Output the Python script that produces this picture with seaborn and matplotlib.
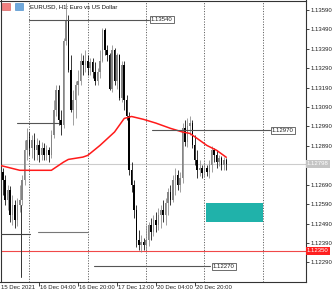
import matplotlib
matplotlib.use("Agg")
import matplotlib.pyplot as plt
import matplotlib.transforms as mtransforms
import seaborn as sns
import numpy as np

# ---------------- data ----------------
bar_start = -12  # bar index of the first candle (index 0 = 16 Dec 00:00)
opens = [1.12687, 1.12754, 1.12712, 1.12609, 1.12661, 1.12532, 1.12584, 1.12507, 1.12584, 1.12609,
         1.12712, 1.12867, 1.12918, 1.12877, 1.12918, 1.12867, 1.12892, 1.12841, 1.12877, 1.12841,
         1.12867, 1.12841, 1.12944, 1.13072, 1.13175, 1.13021, 1.12995, 1.13432, 1.13535, 1.13278,
         1.13072, 1.13124, 1.13201, 1.13226, 1.13329, 1.13304, 1.13329, 1.13288, 1.13319, 1.13268,
         1.13226, 1.13268, 1.13329, 1.13484, 1.13381, 1.13355, 1.13185, 1.13381, 1.13226, 1.13355,
         1.13134, 1.13304, 1.13124, 1.13046, 1.12764, 1.12687, 1.12558, 1.12404, 1.12378, 1.12394,
         1.12378, 1.12404, 1.12481, 1.12445, 1.12507, 1.12481, 1.12532, 1.12558, 1.12532, 1.12594,
         1.12651, 1.12609, 1.12712, 1.12738, 1.12687, 1.12723, 1.12980, 1.12908, 1.12990, 1.13010,
         1.12892, 1.12815, 1.12764, 1.12774, 1.12748, 1.12774, 1.12754, 1.12789, 1.12867, 1.12841,
         1.12805, 1.12826, 1.12789, 1.12815]
highs = [1.12789, 1.12774, 1.12738, 1.12687, 1.12682, 1.12635, 1.12609, 1.12620, 1.12687, 1.12738,
         1.12918, 1.12980, 1.12959, 1.12944, 1.12954, 1.12928, 1.12918, 1.12908, 1.12903, 1.12892,
         1.12882, 1.12969, 1.13124, 1.13201, 1.13201, 1.13072, 1.13443, 1.13623, 1.13561, 1.13355,
         1.13175, 1.13226, 1.13278, 1.13370, 1.13355, 1.13381, 1.13355, 1.13340, 1.13340, 1.13319,
         1.13288, 1.13381, 1.13494, 1.13494, 1.13407, 1.13370, 1.13407, 1.13396, 1.13370, 1.13365,
         1.13329, 1.13329, 1.13149, 1.13062, 1.12805, 1.12712, 1.12584, 1.12455, 1.12429, 1.12414,
         1.12481, 1.12497, 1.12517, 1.12532, 1.12548, 1.12569, 1.12584, 1.12609, 1.12620, 1.12671,
         1.12687, 1.12738, 1.12774, 1.12764, 1.12754, 1.13010, 1.13021, 1.13031, 1.13041, 1.13021,
         1.12944, 1.12867, 1.12815, 1.12789, 1.12805, 1.12789, 1.12815, 1.12887, 1.12877, 1.12867,
         1.12841, 1.12836, 1.12831, 1.12826]
lows = [1.12661, 1.12635, 1.12584, 1.12558, 1.12497, 1.12481, 1.12466, 1.12476, 1.12548, 1.12584,
        1.12687, 1.12815, 1.12841, 1.12826, 1.12815, 1.12815, 1.12805, 1.12815, 1.12815, 1.12815,
        1.12805, 1.12826, 1.12928, 1.13046, 1.12995, 1.12944, 1.12980, 1.13407, 1.13268, 1.13062,
        1.12995, 1.13031, 1.13149, 1.13201, 1.13252, 1.13268, 1.13252, 1.13252, 1.13237, 1.13201,
        1.13201, 1.13237, 1.13319, 1.13355, 1.13329, 1.13175, 1.13165, 1.13201, 1.13185, 1.13124,
        1.13113, 1.13072, 1.13021, 1.12738, 1.12651, 1.12517, 1.12368, 1.12352, 1.12342, 1.12352,
        1.12352, 1.12373, 1.12404, 1.12424, 1.12445, 1.12455, 1.12466, 1.12497, 1.12481, 1.12532,
        1.12584, 1.12599, 1.12635, 1.12661, 1.12651, 1.12697, 1.12887, 1.12882, 1.12944, 1.12877,
        1.12789, 1.12723, 1.12733, 1.12723, 1.12728, 1.12733, 1.12723, 1.12754, 1.12805, 1.12774,
        1.12784, 1.12764, 1.12764, 1.12764]
closes = [1.12754, 1.12712, 1.12609, 1.12661, 1.12532, 1.12584, 1.12507, 1.12584, 1.12609, 1.12712,
          1.12867, 1.12918, 1.12877, 1.12918, 1.12867, 1.12892, 1.12841, 1.12877, 1.12841, 1.12867,
          1.12841, 1.12944, 1.13072, 1.13175, 1.13021, 1.12995, 1.13432, 1.13535, 1.13278, 1.13072,
          1.13124, 1.13201, 1.13226, 1.13329, 1.13304, 1.13329, 1.13288, 1.13319, 1.13268, 1.13226,
          1.13268, 1.13329, 1.13484, 1.13381, 1.13355, 1.13185, 1.13381, 1.13226, 1.13355, 1.13134,
          1.13304, 1.13124, 1.13046, 1.12764, 1.12687, 1.12558, 1.12404, 1.12378, 1.12394, 1.12378,
          1.12404, 1.12481, 1.12445, 1.12507, 1.12481, 1.12532, 1.12558, 1.12532, 1.12594, 1.12651,
          1.12609, 1.12712, 1.12738, 1.12687, 1.12723, 1.12980, 1.12908, 1.12990, 1.13010, 1.12892,
          1.12815, 1.12764, 1.12774, 1.12748, 1.12774, 1.12754, 1.12789, 1.12867, 1.12841, 1.12805,
          1.12826, 1.12789, 1.12815, 1.12798]

ma_bars = [-12, -4, 9, 14, 16, 22, 24, 29, 35, 39, 42, 47, 52, 58, 63, 66, 69, 73, 77, 81]
ma_values = [1.12789, 1.12764, 1.12764, 1.12806, 1.12820, 1.12832, 1.12841, 1.12892, 1.12961, 1.13031,
             1.13041, 1.13026, 1.13007, 1.12980, 1.12961, 1.12954, 1.12928, 1.12892, 1.12867, 1.12831]

ytick_values = [1.12290, 1.12390, 1.12490, 1.12590, 1.12690, 1.12790, 1.12890, 1.12990,
                1.13090, 1.13190, 1.13290, 1.13390, 1.13490, 1.13590]
xtick_bars = [-12, 4, 20, 36, 52, 68]
xtick_labels = ["15 Dec 2021", "16 Dec 04:00", "16 Dec 20:00", "17 Dec 12:00", "20 Dec 04:00", "20 Dec 20:00"]
day_separators = [0, 24, 48, 72, 96]

bid_price = 1.12798
alert_price = 1.12350
# labelled horizontal trend lines: (price, start bar, end bar)
labelled_lines = [(1.13540, 0, 49), (1.12970, 50.6, 98.8), (1.12270, 26.7, 74.5)]
plain_lines = [(1.12446, 3.7, 23.9, "#777777"), (1.12434, -12, 0.4, "#444444"), (1.13009, -5.3, 11.9, "#555555")]
vertical_line = (-3.3, 1.12214, 1.12584)
zone = (72.8, 96.0, 1.12500, 1.12595)
title = "EURUSD, H1: Euro vs US Dollar"

# ---------------- figure ----------------
sns.set_theme(style="white")
plt.rcParams['font.family'] = ['Liberation Sans', 'DejaVu Sans']
FS = 4.3

W, H = 332, 293
fig = plt.figure(figsize=(W / 100, H / 100), dpi=100)
ax = fig.add_axes([0.5 / W, 11 / H, 305 / W, 281.5 / H])
ax.set_facecolor("white")

xmin, xmax = -11.93, 113.6
ymin, ymax = 1.12189, 1.13638
ax.set_xlim(xmin, xmax)
ax.set_ylim(ymin, ymax)

# day separators
for d in day_separators:
    ax.axvline(d, color="#666666", lw=0.7, ls=(0, (1.2, 1.5)), zorder=1)

# bid line and alert line
ax.axhline(bid_price, color="#cccccc", lw=0.8, zorder=1)
ax.axhline(alert_price, color="#f04848", lw=0.8, zorder=2)

# zone
ax.add_patch(plt.Rectangle((zone[0], zone[2]), zone[1] - zone[0], zone[3] - zone[2],
                           facecolor="#20b2aa", edgecolor="none", zorder=2))

# candles
xs = np.arange(bar_start, bar_start + len(opens))
o = np.array(opens); c = np.array(closes); hi = np.array(highs); lo = np.array(lows)
bull = c >= o
cols = np.where(bull, "#858585", "#000000")
ax.vlines(xs, lo, hi, colors=cols, lw=0.55, zorder=3)
body_bottom = np.minimum(o, c)
body_h = np.maximum(np.abs(c - o), 0.00003)
ax.bar(xs, body_h, bottom=body_bottom, width=0.62, color=cols, linewidth=0, zorder=4)

# moving average
sns.lineplot(x=ma_bars, y=ma_values, ax=ax, color="#ff1a1a", lw=1.1, zorder=5, sort=False)
ax.set_xlabel(""); ax.set_ylabel("")

# trend lines
for price, x0, x1 in labelled_lines:
    ax.plot([x0, x1], [price, price], color="#555555", lw=0.8, zorder=6)
    ax.text(x1 + 0.9, price, f"{price:.5f}", fontsize=FS, color="#222222", va="center", ha="left",
            zorder=7, bbox=dict(boxstyle="square,pad=0.18", fc="white", ec="#555555", lw=0.6))
for price, x0, x1, col in plain_lines:
    ax.plot([x0, x1], [price, price], color=col, lw=0.8, zorder=6)
ax.plot([vertical_line[0]] * 2, [vertical_line[1], vertical_line[2]], color="#333333", lw=0.7, zorder=6)

# axes styling
for s in ax.spines.values():
    s.set_color("#333333"); s.set_linewidth(0.8)
ax.yaxis.tick_right()
ax.set_yticks(ytick_values)
# the bid-price marker covers the tick label nearest to it
ax.set_yticklabels(["" if abs(v - bid_price) < 0.0003 else f"{v:.5f}" for v in ytick_values],
                   fontsize=FS, color="#222222")
ax.tick_params(axis="y", direction="out", length=2.5, width=0.6, pad=1, colors="#222222")
ax.set_xticks([b for b in xtick_bars if b > xmin])
ax.set_xticklabels([])
ax.tick_params(axis="x", direction="out", length=3, width=0.6, colors="#222222", bottom=True)

xt = mtransforms.blended_transform_factory(ax.transData, ax.transAxes)
for b, lab in zip(xtick_bars, xtick_labels):
    ax.text(b + 0.45 if b > xmin else xmin + 0.1, -0.01, lab, transform=xt, fontsize=FS, color="#222222",
            ha="left", va="top", clip_on=False)

# price labels on the right axis
yt = mtransforms.blended_transform_factory(ax.transAxes, ax.transData)
ax.text(1.005, bid_price, f"{bid_price:.5f}", transform=yt, fontsize=FS, color="white", va="center",
        ha="left", clip_on=False, zorder=8,
        bbox=dict(boxstyle="square,pad=0.25", fc="#c4c4c4", ec="none"))
ax.text(1.005, alert_price, f"{alert_price:.5f}", transform=yt, fontsize=FS, color="white", va="center",
        ha="left", clip_on=False, zorder=8,
        bbox=dict(boxstyle="square,pad=0.25", fc="#ff2020", ec="none"))

# title with icons
ax.text(29 / 305, 1 - 6 / 282, title, transform=ax.transAxes, fontsize=FS, color="#111111",
        va="center", ha="left", zorder=9)
fig.add_artist(plt.Rectangle((2 / W, 1 - 10 / H), 8 / W, 7 / H, transform=fig.transFigure,
                             fc="#f08080", ec="#d05050", lw=0.4))
fig.add_artist(plt.Rectangle((15 / W, 1 - 10 / H), 8 / W, 7 / H, transform=fig.transFigure,
                             fc="#6fa8dc", ec="#3d85c6", lw=0.4))

fig.savefig("out.png", dpi=100)
